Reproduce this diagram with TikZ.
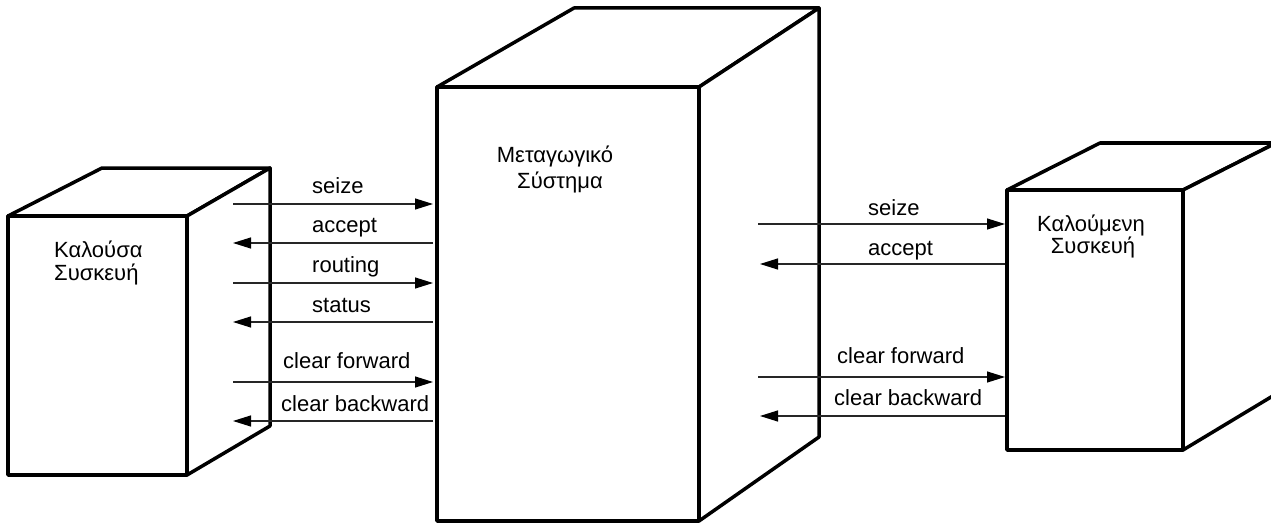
\documentclass[tikz,border=0pt]{standalone}
\usepackage{fontspec}
\setmainfont{Liberation Sans}
\usetikzlibrary{arrows.meta}
\tikzset{
  boxline/.style={line width=3.5pt, line join=round, fill=white},
  sig/.style={line width=1.2pt, draw=black!85, -{Triangle[length=18pt,width=11pt,color=black]}},
  lbl/.style={font=\fontsize{22}{24}\selectfont, inner sep=0pt, anchor=base west},
  blbl/.style={font=\fontsize{22}{24}\selectfont, inner sep=0pt, anchor=base},
}
\begin{document}
\begin{tikzpicture}[x=1pt,y=-1pt]
\clip (0,0) rectangle (1271,524);
\fill[white] (0,0) rectangle (1271,524);
% left box
\draw[boxline] (8,216) -- (102,168) -- (270,168) -- (187,216) -- cycle;
\draw[boxline] (187,216) -- (270,168) -- (270,426) -- (187,475) -- cycle;
\draw[boxline] (8,216) rectangle (187,475);
% middle box
\draw[boxline] (437,87) -- (574,8) -- (819,8) -- (699,87) -- cycle;
\draw[boxline] (699,87) -- (819,8) -- (819,437) -- (699,521) -- cycle;
\draw[boxline] (437,87) rectangle (699,521);
% right box
\draw[boxline] (1007,190) -- (1100,143) -- (1276,143) -- (1183,190) -- cycle;
\draw[boxline] (1183,190) -- (1276,143) -- (1276,394) -- (1183,450) -- cycle;
\draw[boxline] (1007,190) rectangle (1183,450);
% box labels
\node[lbl] (c1) at (54,257) {Καλούσα};
\node[lbl] (c2) at (54,280) {Συσκευή};
\node[blbl] (m1) at (555,162) {Μεταγωγικό};
\node[blbl] (m2) at (560,188) {Σύστημα};
\node[blbl] (r1) at (1091,231) {Καλούμενη};
\node[blbl] (r2) at (1093,253) {Συσκευή};
% left signal endpoints
\coordinate (la1) at (233,204); \coordinate (lb1) at (433,204);
\coordinate (la2) at (233,243); \coordinate (lb2) at (433,243);
\coordinate (la3) at (233,283); \coordinate (lb3) at (433,283);
\coordinate (la4) at (233,322); \coordinate (lb4) at (433,322);
\coordinate (la5) at (233,382); \coordinate (lb5) at (433,382);
\coordinate (la6) at (233,421); \coordinate (lb6) at (433,421);
\draw[sig] (la1) -- (lb1);
\draw[sig] (lb2) -- (la2);
\draw[sig] (la3) -- (lb3);
\draw[sig] (lb4) -- (la4);
\draw[sig] (la5) -- (lb5);
\draw[sig] (lb6) -- (la6);
\node[lbl] (t1) at (312,193) {seize};
\node[lbl] (t2) at (312,232) {accept};
\node[lbl] (t3) at (312,272) {routing};
\node[lbl] (t4) at (312,312) {status};
\node[lbl] (t5) at (283,368) {clear forward};
\node[lbl] (t6) at (281,411) {clear backward};
% right signal endpoints
\coordinate (ra1) at (758,224); \coordinate (rb1) at (1005,224);
\coordinate (ra2) at (760,264); \coordinate (rb2) at (1005,264);
\coordinate (ra3) at (758,377); \coordinate (rb3) at (1005,377);
\coordinate (ra4) at (760,416); \coordinate (rb4) at (1005,416);
\draw[sig] (ra1) -- (rb1);
\draw[sig] (rb2) -- (ra2);
\draw[sig] (ra3) -- (rb3);
\draw[sig] (rb4) -- (ra4);
\node[lbl] (s1) at (868,215) {seize};
\node[lbl] (s2) at (868,255) {accept};
\node[lbl] (s3) at (837,363) {clear forward};
\node[lbl] (s4) at (834,405) {clear backward};
\end{tikzpicture}
\end{document}
